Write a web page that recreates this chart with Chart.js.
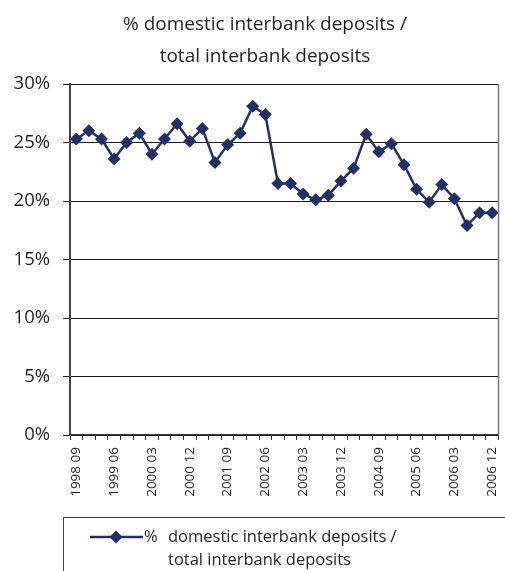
<!DOCTYPE html>
<html>
<head>
<meta charset="utf-8">
<script src="https://cdn.jsdelivr.net/npm/chart.js@4/dist/chart.umd.min.js"></script>
<style>
  html, body { margin: 0; padding: 0; background: #fff; }
  #wrap { position: relative; width: 505px; height: 571px; }
</style>
</head>
<body>
<div id="wrap"><canvas id="c" width="505" height="571"></canvas></div>
<script>
// Quarter-end dates, 1998 Q3 to 2006 Q4
const quarters = [
  '1998 09', '1998 12',
  '1999 03', '1999 06', '1999 09', '1999 12',
  '2000 03', '2000 06', '2000 09', '2000 12',
  '2001 03', '2001 06', '2001 09', '2001 12',
  '2002 03', '2002 06', '2002 09', '2002 12',
  '2003 03', '2003 06', '2003 09', '2003 12',
  '2004 03', '2004 06', '2004 09', '2004 12',
  '2005 03', '2005 06', '2005 09', '2005 12',
  '2006 03', '2006 06', '2006 09', '2006 12'
];

// Share of domestic interbank deposits in total interbank deposits, %
const domesticShare = [
  25.3, 26.0, 25.3, 23.6, 25.0, 25.8, 24.0, 25.3, 26.6, 25.1,
  26.2, 23.3, 24.8, 25.8, 28.1, 27.4, 21.5, 21.5, 20.6, 20.1,
  20.5, 21.7, 22.8, 25.7, 24.2, 24.9, 23.1, 21.0, 19.9, 21.4,
  20.2, 17.9, 19.0, 19.0
];

const titleLines = ['% domestic interbank deposits /', 'total interbank deposits'];
const seriesName = ['%', 'domestic interbank deposits /', 'total interbank deposits'];
const yTicks = [0, 5, 10, 15, 20, 25, 30];

const FONT = '"Open Sans", "Noto Sans", sans-serif';
const INK = '#231f20';
const NAVY = '#22306a';

// Title above the plot and the legend box below the axis labels
const decorations = {
  id: 'decorations',
  afterDraw(chart) {
    const ctx = chart.ctx;
    const area = chart.chartArea;
    ctx.save();

    // right edge of the plot area
    ctx.strokeStyle = '#777';
    ctx.lineWidth = 1.5;
    ctx.beginPath();
    ctx.moveTo(area.right, area.top);
    ctx.lineTo(area.right, area.bottom);
    ctx.stroke();

    // title
    ctx.fillStyle = INK;
    ctx.font = '19px ' + FONT;
    ctx.textAlign = 'center';
    ctx.textBaseline = 'middle';
    ctx.fillText(titleLines[0], 265, 25);
    ctx.fillText(titleLines[1], 265, 57);

    // legend frame
    ctx.strokeStyle = '#444';
    ctx.lineWidth = 1;
    ctx.strokeRect(63.5, 517.5, 480, 120);

    // legend sample: line with a diamond marker
    ctx.strokeStyle = NAVY;
    ctx.lineWidth = 2.5;
    ctx.beginPath();
    ctx.moveTo(90, 537);
    ctx.lineTo(143, 537);
    ctx.stroke();
    const r = 6.5;
    ctx.fillStyle = NAVY;
    ctx.beginPath();
    ctx.moveTo(116, 537 - r);
    ctx.lineTo(116 + r, 537);
    ctx.lineTo(116, 537 + r);
    ctx.lineTo(116 - r, 537);
    ctx.closePath();
    ctx.fill();

    // legend text
    ctx.fillStyle = INK;
    ctx.font = '16.5px ' + FONT;
    ctx.textAlign = 'left';
    ctx.fillText(seriesName[0], 144, 537);
    ctx.fillText(seriesName[1], 168, 537);
    ctx.fillText(seriesName[2], 168, 560);
    ctx.restore();
  }
};

new Chart(document.getElementById('c'), {
  type: 'line',
  data: {
    labels: quarters,
    datasets: [{
      label: titleLines.join(' '),
      data: domesticShare,
      borderColor: NAVY,
      backgroundColor: NAVY,
      borderWidth: 2.5,
      pointStyle: 'rectRot',
      pointRadius: 6.5,
      pointHoverRadius: 6.5,
      pointBorderWidth: 0,
      tension: 0,
      fill: false
    }]
  },
  options: {
    responsive: false,
    animation: false,
    devicePixelRatio: 1,
    layout: { padding: { top: 84, right: 0, left: 0, bottom: 0 } },
    plugins: {
      legend: { display: false },
      title: { display: false },
      tooltip: { enabled: false }
    },
    scales: {
      x: {
        type: 'category',
        offset: true,
        afterFit(scale) {
          scale.height = 136;
          scale.paddingLeft = 0;
          scale.paddingRight = 0;
        },
        grid: {
          offset: true,
          drawOnChartArea: false,
          drawTicks: true,
          tickLength: 5,
          color: '#333',
          lineWidth: 1
        },
        border: { display: true, color: '#333', width: 1.5 },
        ticks: {
          autoSkip: false,
          minRotation: 90,
          maxRotation: 90,
          padding: 7,
          color: INK,
          font: { family: FONT, size: 13.5 },
          callback(value, index) { return index % 3 === 0 ? quarters[index] : ''; }
        }
      },
      y: {
        min: 0,
        max: 30,
        afterFit(scale) {
          scale.width = 70;
          scale.paddingTop = 0;
          scale.paddingBottom = 0;
        },
        afterBuildTicks(scale) { scale.ticks = yTicks.map(v => ({ value: v })); },
        grid: {
          color: '#1a1a1a',
          lineWidth: 1,
          drawTicks: true,
          tickLength: 7
        },
        border: { display: true, color: '#444', width: 2 },
        ticks: {
          padding: 13,
          color: INK,
          font: { family: FONT, size: 18.5 },
          callback(value) { return value + '%'; }
        }
      }
    }
  },
  plugins: [decorations]
});
</script>
</body>
</html>
